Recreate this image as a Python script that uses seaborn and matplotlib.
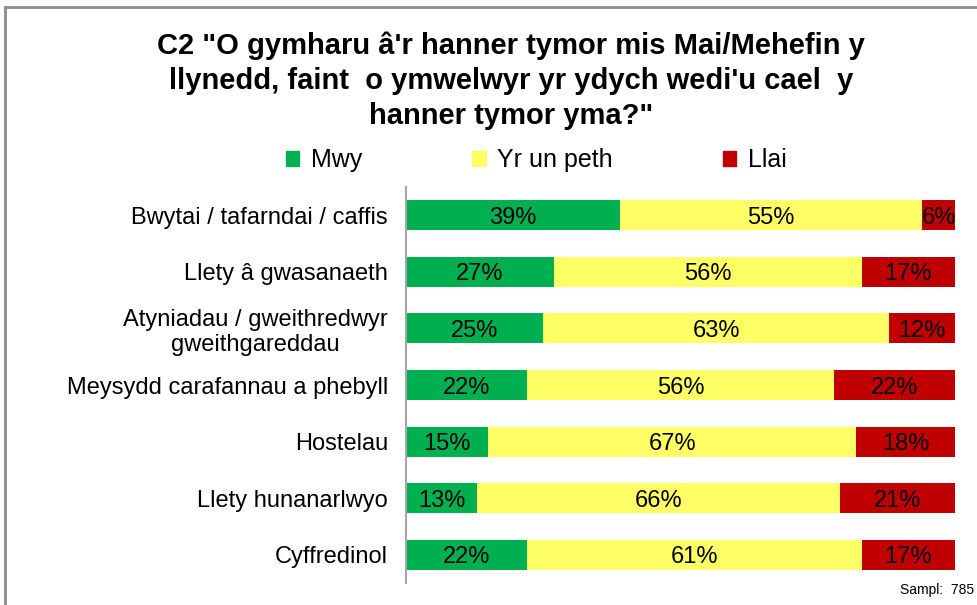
import numpy as np
import pandas as pd
import matplotlib.pyplot as plt
from matplotlib.patches import Rectangle
import seaborn as sns

# data
categories = ["Bwytai / tafarndai / caffis",
              "Llety â gwasanaeth",
              "Atyniadau / gweithredwyr\ngweithgareddau",
              "Meysydd carafannau a phebyll",
              "Hostelau",
              "Llety hunanarlwyo",
              "Cyffredinol"]
mwy = [39, 27, 25, 22, 15, 13, 22]
yr_un = [55, 56, 63, 56, 67, 66, 61]
llai = [6, 17, 12, 22, 18, 21, 17]
series_names = ["Mwy", "Yr un peth", "Llai"]
colors = ["#00B050", "#FFFF66", "#C00000"]
title = 'C2 "O gymharu â\'r hanner tymor mis Mai/Mehefin y\nllynedd, faint  o ymwelwyr yr ydych wedi\'u cael  y\nhanner tymor yma?"'
sample_note = "Sampl:  785"

sns.set_theme(style="white")
plt.rcParams['font.family'] = ['Liberation Sans', 'DejaVu Sans']
plt.rcParams['text.color'] = 'black'

df = pd.DataFrame({"cat": categories, "Mwy": mwy, "Yr un peth": yr_un, "Llai": llai})
df["c1"] = df["Mwy"]
df["c2"] = df["Mwy"] + df["Yr un peth"]
df["c3"] = df["c2"] + df["Llai"]

fig = plt.figure(figsize=(9.77, 6.05), dpi=100)
ax = fig.add_axes([406/977, 1 - 583/605, 549/977, (583 - 187)/605])

# stacked bars: draw cumulative totals back to front
for col, name, c in zip(["c3", "c2", "c1"], series_names[::-1], colors[::-1]):
    sns.barplot(data=df, x=col, y="cat", orient="h", color=c, saturation=1,
                width=0.53, ax=ax, label=name, linewidth=0)

# percentage labels in each segment
for i, row in df.iterrows():
    starts = [0, row["c1"], row["c2"]]
    for s, v in zip(starts, [row["Mwy"], row["Yr un peth"], row["Llai"]]):
        ax.text(s + v / 2, i, f"{v}%", ha="center", va="center_baseline",
                fontsize=17, color="black")

ax.set_xlim(0, 100)
ax.set_ylim(6.5, -0.5)
ax.set_xlabel("")
ax.set_ylabel("")
ax.set_xticks([])
for side in ["top", "right", "bottom"]:
    ax.spines[side].set_visible(False)
ax.spines["left"].set_color("#A6A6A6")
ax.spines["left"].set_linewidth(1.5)
ax.tick_params(axis="y", length=0, pad=13, labelsize=17, colors="black")
for lab in ax.get_yticklabels():
    lab.set_multialignment("center")
if ax.get_legend() is not None:
    ax.get_legend().remove()

handles = [Rectangle((0, 0), 1, 1, color=c) for c in colors]
leg = fig.legend(handles, series_names, loc="center", bbox_to_anchor=(536/977, 1 - 160/605),
                 ncol=3, frameon=False, fontsize=18, handlelength=0.55, handleheight=0.55,
                 handletextpad=0.45, columnspacing=4.4)
for t in leg.get_texts():
    t.set_color("black")

fig.text(511/977, 1 - 31/605, title, ha="center", va="top", fontsize=21,
         fontweight="bold", multialignment="center", linespacing=1.32, color="black")
fig.text(974/977, 1 - 590/605, sample_note, ha="right", va="center", fontsize=10, color="black")

# grey frame that runs off the right and bottom edges
fig.patches.append(Rectangle((5/977, -0.1), 1.2, 1.1 - 7/605, transform=fig.transFigure,
                             fill=False, edgecolor="#8C8C8C", linewidth=2))

fig.savefig("out.png", dpi=100)
